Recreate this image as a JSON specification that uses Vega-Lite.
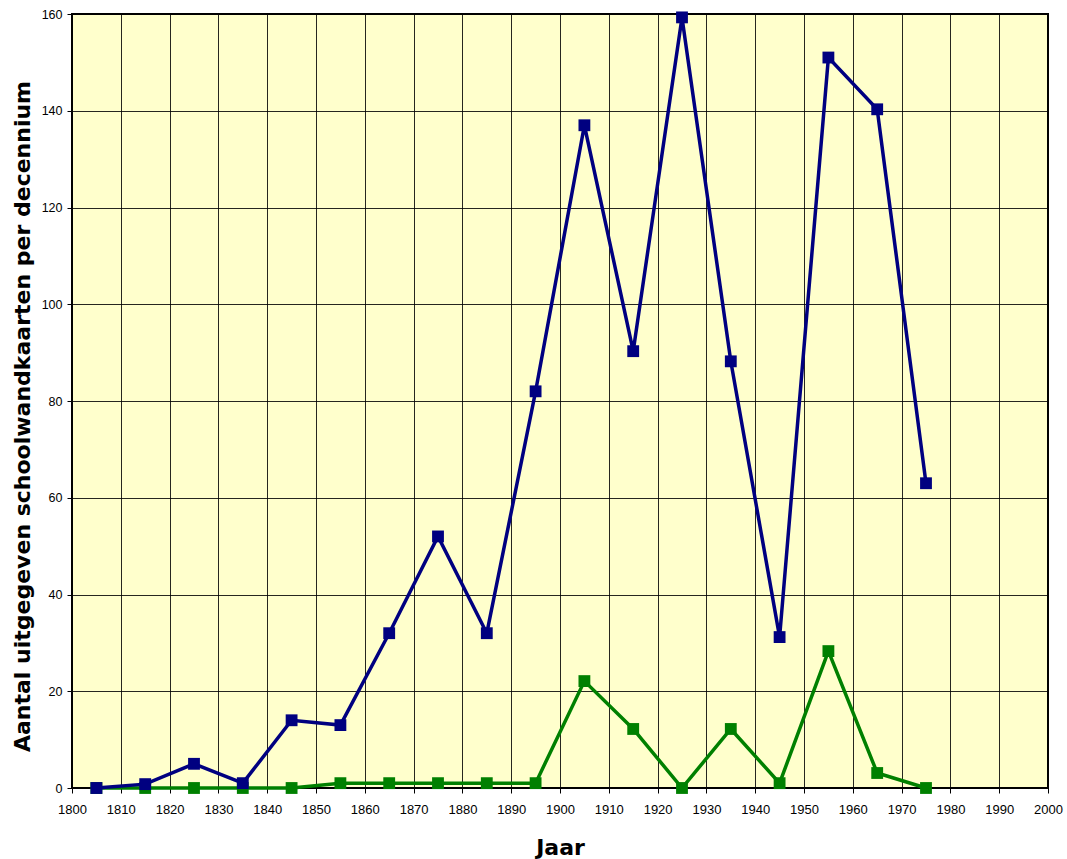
{
  "$schema": "https://vega.github.io/schema/vega-lite/v6.json",
  "width": 976,
  "height": 774,
  "autosize": {"type": "none"},
  "padding": {"left": 72, "top": 14, "right": 19, "bottom": 71},
  "background": "white",
  "config": {
    "view": {"fill": "#FFFFCC", "stroke": "black", "strokeWidth": 2},
    "axis": {
      "grid": true,
      "gridColor": "black",
      "gridOpacity": 0.85,
      "gridWidth": 1,
      "domain": false,
      "tickColor": "black",
      "tickSize": 5,
      "labelFont": "Liberation Sans",
      "labelFontSize": 13,
      "labelColor": "black",
      "titleFont": "DejaVu Sans",
      "titleFontWeight": "bold",
      "titleFontSize": 22,
      "titleColor": "black"
    }
  },
  "data": {
    "values": [
      {"jaar": 1805, "serie": "totaal", "aantal": 0},
      {"jaar": 1815, "serie": "totaal", "aantal": 0.8},
      {"jaar": 1825, "serie": "totaal", "aantal": 5},
      {"jaar": 1835, "serie": "totaal", "aantal": 1},
      {"jaar": 1845, "serie": "totaal", "aantal": 14},
      {"jaar": 1855, "serie": "totaal", "aantal": 13},
      {"jaar": 1865, "serie": "totaal", "aantal": 32},
      {"jaar": 1875, "serie": "totaal", "aantal": 52},
      {"jaar": 1885, "serie": "totaal", "aantal": 32},
      {"jaar": 1895, "serie": "totaal", "aantal": 82},
      {"jaar": 1905, "serie": "totaal", "aantal": 137},
      {"jaar": 1915, "serie": "totaal", "aantal": 90.3},
      {"jaar": 1925, "serie": "totaal", "aantal": 159.3},
      {"jaar": 1935, "serie": "totaal", "aantal": 88.2},
      {"jaar": 1945, "serie": "totaal", "aantal": 31.2},
      {"jaar": 1955, "serie": "totaal", "aantal": 151},
      {"jaar": 1965, "serie": "totaal", "aantal": 140.3},
      {"jaar": 1975, "serie": "totaal", "aantal": 63},
      {"jaar": 1805, "serie": "deel", "aantal": 0},
      {"jaar": 1815, "serie": "deel", "aantal": 0},
      {"jaar": 1825, "serie": "deel", "aantal": 0},
      {"jaar": 1835, "serie": "deel", "aantal": 0},
      {"jaar": 1845, "serie": "deel", "aantal": 0},
      {"jaar": 1855, "serie": "deel", "aantal": 1},
      {"jaar": 1865, "serie": "deel", "aantal": 1},
      {"jaar": 1875, "serie": "deel", "aantal": 1},
      {"jaar": 1885, "serie": "deel", "aantal": 1},
      {"jaar": 1895, "serie": "deel", "aantal": 1},
      {"jaar": 1905, "serie": "deel", "aantal": 22.1},
      {"jaar": 1915, "serie": "deel", "aantal": 12.2},
      {"jaar": 1925, "serie": "deel", "aantal": 0},
      {"jaar": 1935, "serie": "deel", "aantal": 12.2},
      {"jaar": 1945, "serie": "deel", "aantal": 1},
      {"jaar": 1955, "serie": "deel", "aantal": 28.3},
      {"jaar": 1965, "serie": "deel", "aantal": 3.1},
      {"jaar": 1975, "serie": "deel", "aantal": 0}
    ]
  },
  "encoding": {
    "x": {
      "field": "jaar", "type": "quantitative",
      "scale": {"domain": [1800, 2000], "nice": false, "zero": false},
      "axis": {"values": [1800,1810,1820,1830,1840,1850,1860,1870,1880,1890,1900,1910,1920,1930,1940,1950,1960,1970,1980,1990,2000], "format": "d", "title": "Jaar", "labelPadding": 10, "titlePadding": 21, "labelFlush": false}
    },
    "y": {
      "field": "aantal", "type": "quantitative",
      "scale": {"domain": [0, 160], "nice": false},
      "axis": {"values": [0,20,40,60,80,100,120,140,160], "title": "Aantal uitgegeven schoolwandkaarten per decennium", "labelFontSize": 12.5, "labelPadding": 5, "titlePadding": 7, "titleY": 402, "labelFlush": false}
    },
    "color": {
      "field": "serie", "type": "nominal",
      "scale": {"domain": ["totaal", "deel"], "range": ["#000080", "#008000"]},
      "legend": null
    }
  },
  "layer": [
    {
      "transform": [{"filter": "datum.serie === 'deel'"}],
      "mark": {"type": "line", "strokeWidth": 3.5, "point": {"filled": true, "shape": "square", "size": 140, "opacity": 1}}
    },
    {
      "transform": [{"filter": "datum.serie === 'totaal'"}],
      "mark": {"type": "line", "strokeWidth": 3.5, "point": {"filled": true, "shape": "square", "size": 140, "opacity": 1}}
    }
  ]
}
